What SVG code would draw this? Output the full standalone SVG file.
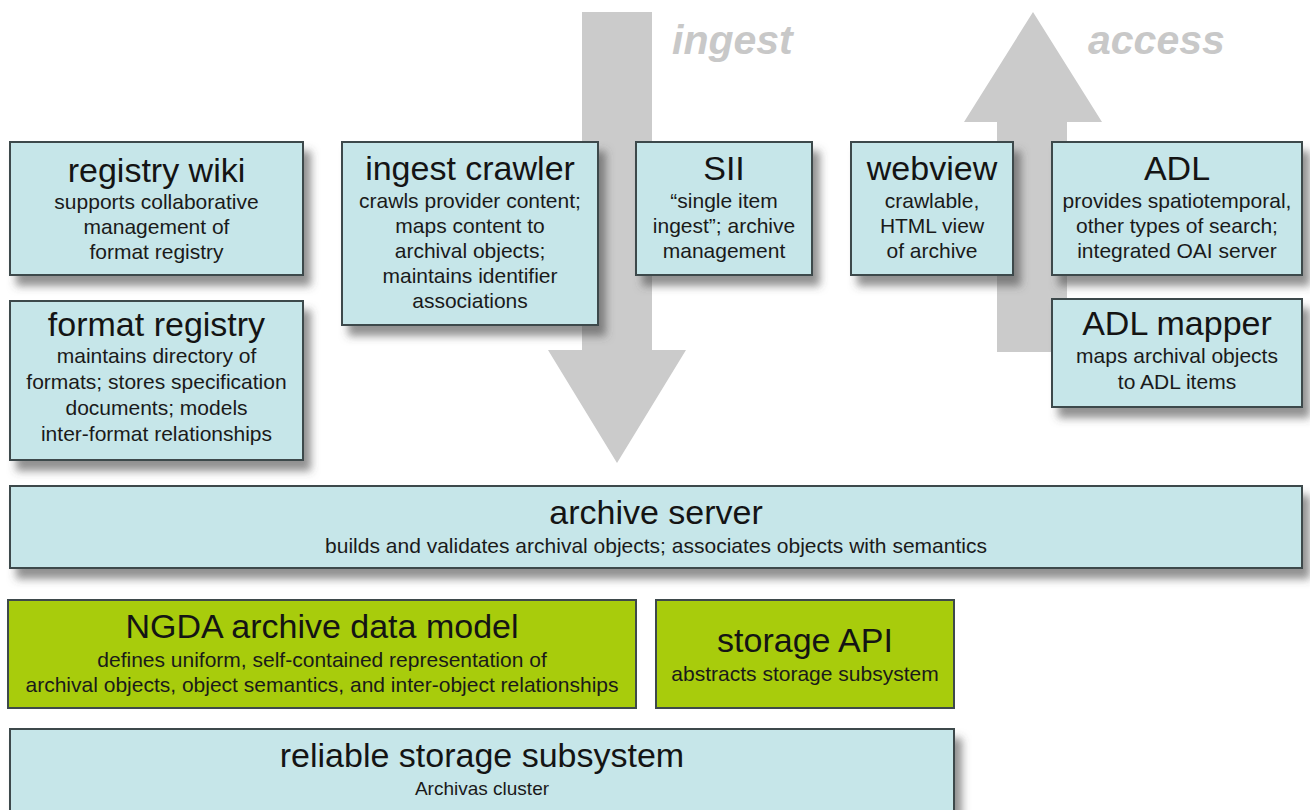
<svg xmlns="http://www.w3.org/2000/svg" width="1310" height="810" viewBox="0 0 1310 810">
<defs>
<filter id="sh" x="-10%" y="-20%" width="130%" height="150%">
<feDropShadow dx="7" dy="10" stdDeviation="4" flood-color="#4a4a4a" flood-opacity="0.6"/>
</filter>
<style>
.box{fill:#c6e6e9;stroke:#3e494b;stroke-width:2;filter:url(#sh)}
.gbox{fill:#a8cc0c;stroke:#3e494b;stroke-width:2}
.t{font-family:"Liberation Sans",Arial,sans-serif;font-size:34px;fill:#141414;text-anchor:middle}
.s{font-family:"Liberation Sans",Arial,sans-serif;font-size:21px;fill:#1a1a1a;text-anchor:middle}
.arrow{fill:#cbcbcb}
.lbl{font-family:"Liberation Sans",Arial,sans-serif;font-size:41px;font-weight:bold;font-style:italic;fill:#c8c8c8}
</style>
</defs>
<rect width="1310" height="810" fill="#ffffff"/>

<g id="connectors">
<path class="arrow" d="M582,12 H652 V350 H686 L617,463 L548,350 H582 Z"/>
<path class="arrow" d="M1033,12 L1102,122 H1067 V352 H997 V122 H964 Z"/>
<text class="lbl" x="672" y="54">ingest</text>
<text class="lbl" x="1088" y="54">access</text>
</g>

<g id="registry-wiki">
<rect class="box" x="10" y="142" width="293" height="133"/>
<text class="t" x="156.5" y="182">registry wiki</text>
<text class="s" x="156.5" y="209">supports collaborative</text>
<text class="s" x="156.5" y="234">management of</text>
<text class="s" x="156.5" y="259">format registry</text>
</g>

<g id="format-registry">
<rect class="box" x="10" y="301" width="293" height="159"/>
<text class="t" x="156.5" y="336">format registry</text>
<text class="s" x="156.5" y="363">maintains directory of</text>
<text class="s" x="156.5" y="389">formats; stores specification</text>
<text class="s" x="156.5" y="415">documents; models</text>
<text class="s" x="156.5" y="441">inter-format relationships</text>
</g>

<g id="ingest-crawler">
<rect class="box" x="342" y="142" width="256" height="183"/>
<text class="t" x="470" y="180">ingest crawler</text>
<text class="s" x="470" y="208">crawls provider content;</text>
<text class="s" x="470" y="233">maps content to</text>
<text class="s" x="470" y="258">archival objects;</text>
<text class="s" x="470" y="283">maintains identifier</text>
<text class="s" x="470" y="308">associations</text>
</g>

<g id="sii">
<rect class="box" x="636" y="142" width="176" height="133"/>
<text class="t" x="724" y="180">SII</text>
<text class="s" x="724" y="208">“single item</text>
<text class="s" x="724" y="233">ingest”; archive</text>
<text class="s" x="724" y="258">management</text>
</g>

<g id="webview">
<rect class="box" x="851" y="142" width="162" height="133"/>
<text class="t" x="932" y="180">webview</text>
<text class="s" x="932" y="208">crawlable,</text>
<text class="s" x="932" y="233">HTML view</text>
<text class="s" x="932" y="258">of archive</text>
</g>

<g id="adl">
<rect class="box" x="1052" y="142" width="250" height="133"/>
<text class="t" x="1177" y="180">ADL</text>
<text class="s" x="1177" y="208">provides spatiotemporal,</text>
<text class="s" x="1177" y="233">other types of search;</text>
<text class="s" x="1177" y="258">integrated OAI server</text>
</g>

<g id="adl-mapper">
<rect class="box" x="1052" y="299" width="250" height="108"/>
<text class="t" x="1177" y="335">ADL mapper</text>
<text class="s" x="1177" y="363">maps archival objects</text>
<text class="s" x="1177" y="389">to ADL items</text>
</g>

<g id="archive-server">
<rect class="box" x="10" y="486" width="1292" height="82"/>
<text class="t" x="656" y="524">archive server</text>
<text class="s" x="656" y="553">builds and validates archival objects; associates objects with semantics</text>
</g>

<g id="ngda-data-model">
<rect class="gbox" x="8" y="600" width="628" height="108"/>
<text class="t" x="322" y="638">NGDA archive data model</text>
<text class="s" x="322" y="667">defines uniform, self-contained representation of</text>
<text class="s" x="322" y="692">archival objects, object semantics, and inter-object relationships</text>
</g>

<g id="storage-api">
<rect class="gbox" x="656" y="600" width="298" height="108"/>
<text class="t" x="805" y="652">storage API</text>
<text class="s" x="805" y="681">abstracts storage subsystem</text>
</g>

<g id="reliable-storage">
<rect class="box" x="10" y="729" width="944" height="90"/>
<text class="t" x="482" y="767">reliable storage subsystem</text>
<text class="s" x="482" y="795" style="font-size:19px">Archivas cluster</text>
</g>
</svg>
